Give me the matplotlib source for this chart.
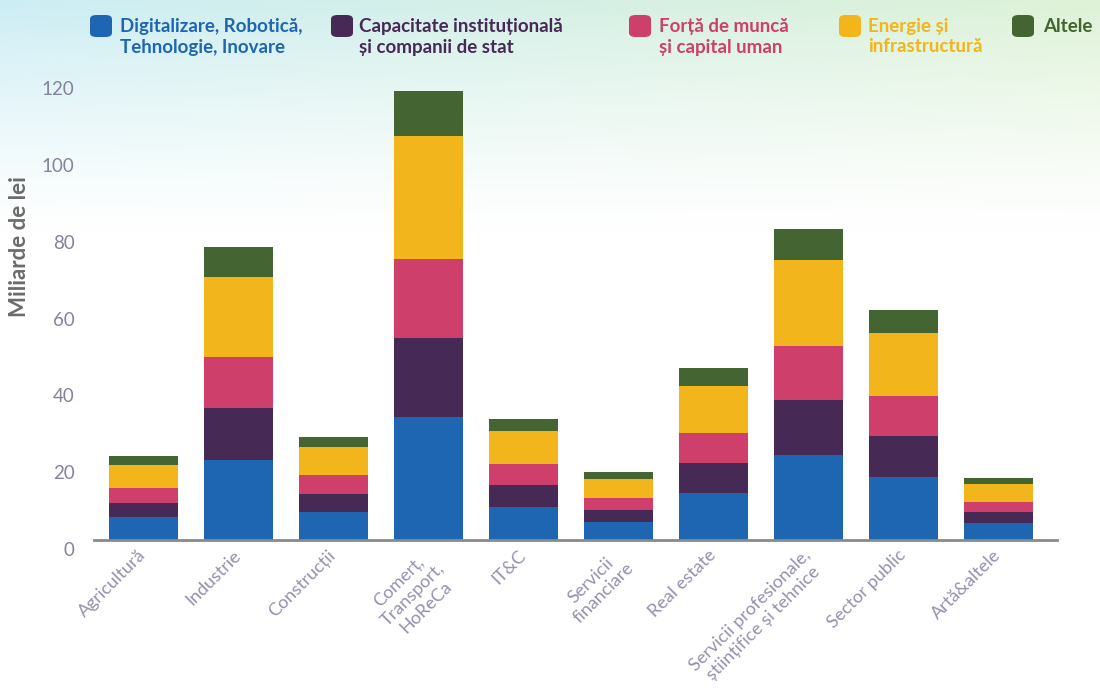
import numpy as np
import matplotlib
matplotlib.use("Agg")
import matplotlib.pyplot as plt
from matplotlib.patches import FancyBboxPatch
from matplotlib.transforms import ScaledTranslation

plt.rcParams['font.family'] = ['Lato', 'DejaVu Sans']

# date (miliarde de lei)
sectoare = ['Agricultură', 'Industrie', 'Construcții', 'Comerț,\nTransport,\nHoReCa', 'IT&C',
            'Servicii\nfinanciare', 'Real estate', 'Servicii profesionale,\nștiințifice și tehnice',
            'Sector public', 'Artă&altele']
digitalizare = [6.0, 20.8, 7.3, 32.0, 8.6, 4.7, 12.2, 22.1, 16.4, 4.4]
capacitate = [3.6, 13.6, 4.7, 20.6, 5.7, 3.1, 7.9, 14.4, 10.7, 2.9]
forta_munca = [3.9, 13.3, 5.0, 20.6, 5.5, 3.1, 7.8, 14.0, 10.4, 2.6]
energie = [6.0, 20.8, 7.2, 32.0, 8.6, 5.0, 12.2, 22.4, 16.4, 4.7]
altele = [2.4, 7.8, 2.6, 11.7, 3.1, 1.8, 4.7, 8.1, 6.0, 1.5]

serii = [digitalizare, capacitate, forta_munca, energie, altele]
etichete = ['Digitalizare, Robotică,\nTehnologie, Inovare',
            'Capacitate instituțională\nși companii de stat',
            'Forță de muncă\nși capital uman',
            'Energie și\ninfrastructură',
            'Altele']
culori = ['#1e66b2', '#472956', '#ce406b', '#f2b51b', '#446431']

fig = plt.figure(figsize=(11, 6.9), dpi=100)

# fundal cu gradient sus
bg = fig.add_axes([0, 0, 1, 1], zorder=-10)
h, w = 690, 1100
xs = np.linspace(0, 1, w)[None, :]
ys = np.arange(h)[:, None]
c1 = np.array([0.80, 0.93, 0.96])
c2 = np.array([0.87, 0.95, 0.84])
col = c1[None, None, :] * (1 - xs[..., None]) + c2[None, None, :] * xs[..., None]
alpha = np.clip(1 - ys / 230.0, 0, 1) ** 1.2
img = col * alpha[..., None] + (1 - alpha[..., None]) * 1.0
bg.imshow(img, aspect='auto', extent=[0, 1, 0, 1])
bg.axis('off')

ax = fig.add_axes([94 / 1100, 1 - 540 / 690, (1057 - 94) / 1100, 480 / 690])
ax.patch.set_alpha(0)

x = np.arange(len(sectoare))
baza = np.zeros(len(sectoare))
for vals, c in zip(serii, culori):
    ax.bar(x, vals, width=0.726, bottom=baza, color=c, linewidth=0)
    baza += np.array(vals)

ax.set_xlim(-0.52, 9.616)
ax.set_ylim(0, 125)
ax.set_yticks(range(0, 121, 20))
for s in ['top', 'right', 'left']:
    ax.spines[s].set_visible(False)
ax.spines['bottom'].set_color('#8a8a8a')
ax.spines['bottom'].set_linewidth(2)
ax.tick_params(axis='both', length=0)
ax.tick_params(axis='y', pad=14, labelsize=13.5, labelcolor='#85819f')

for lab in ax.get_yticklabels():
    lab.set_transform(lab.get_transform() + ScaledTranslation(0, -0.09, fig.dpi_scale_trans))

ax.set_xticks(x)
ax.set_xticklabels(sectoare, rotation=45, ha='right', va='top', rotation_mode='anchor',
                   multialignment='center', fontsize=13, color='#9490ae')
ax.tick_params(axis='x', pad=5)
for lab in ax.get_xticklabels():
    lab.set_transform(lab.get_transform() + ScaledTranslation(-0.06, 0, fig.dpi_scale_trans))

fig.text(20 / 1100, 1 - 247 / 690, 'Miliarde de lei', rotation=90, ha='center', va='center',
         fontsize=16, fontweight='bold', color='#6b6b6b')

# legenda manuala
leg_sq = [90, 331, 629, 839, 1012]
leg_tx = [120, 359, 659, 868, 1043]
for sx, tx, lab, c in zip(leg_sq, leg_tx, etichete, culori):
    fig.patches.append(FancyBboxPatch((sx / 1100, 1 - 37 / 690), 22 / 1100, 22 / 690,
                                      boxstyle='round,pad=0,rounding_size=0.006',
                                      transform=fig.transFigure, color=c, linewidth=0))
    fig.text(tx / 1100, 1 - 18 / 690, lab, ha='left', va='top', fontsize=13.5,
             fontweight='bold', color=c, linespacing=1.25)

fig.savefig('out.png', dpi=100)
